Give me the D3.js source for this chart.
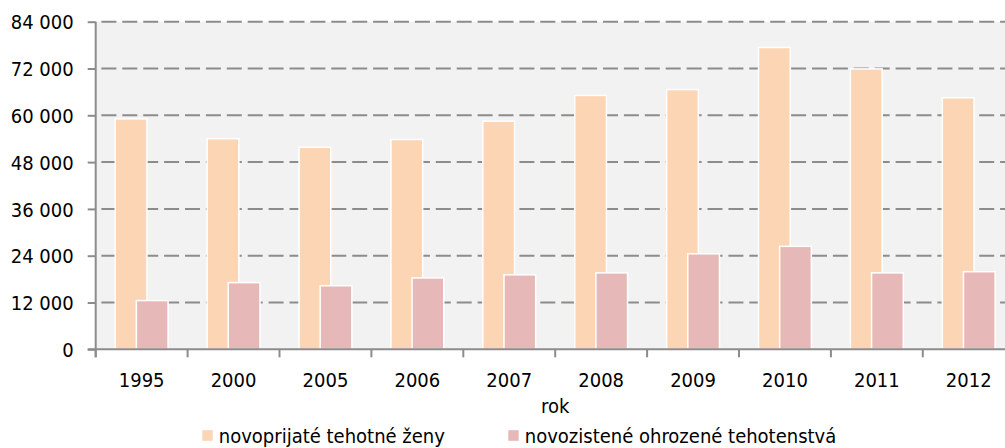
<!DOCTYPE html>
<meta charset="utf-8">
<style>
body{margin:0;background:#fff;}
svg{display:block}
text{font-family:Tahoma,"DejaVu Sans Condensed","DejaVu Sans",sans-serif;font-stretch:condensed;font-size:20px;fill:#000;}
</style>
<svg id="chart" width="1005" height="448"></svg>
<script src="https://cdn.jsdelivr.net/npm/d3@7"></script>
<script>
// years on the x axis
const years = ['1995','2000','2005','2006','2007','2008','2009','2010','2011','2012']
// series
const seriesNames = ['novoprijaté tehotné ženy', 'novozistené ohrozené tehotenstvá']
const newPregnant = [59100, 54000, 51800, 53800, 58500, 65100, 66600, 77400, 71900, 64500]
const newRisk = [12500, 17100, 16300, 18300, 19100, 19600, 24500, 26400, 19600, 19900]
const seriesColors = ['#fcd5b4', '#e6b9b8']
const yTicks = [0, 12000, 24000, 36000, 48000, 60000, 72000, 84000]

const svg = d3.select('#chart')
const plotL = 95.7, plotR = 1014.7, plotT = 21.7, plotB = 349.3

const x = d3.scaleBand().domain(years).range([plotL, plotR])
const y = d3.scaleLinear().domain([0, 84000]).range([plotB, plotT])
// series centres inside a band (bars overlap a bit)
const xs = d3.scalePoint().domain(seriesNames).range([-0.115, 0.115])
const barW = 0.345 * x.bandwidth()

const fmt = d3.formatLocale({decimal: ',', thousands: ' ', grouping: [3], currency: ['', '']}).format(',d')

// plot background
svg.append('rect')
  .attr('x', plotL).attr('y', plotT)
  .attr('width', plotR - plotL).attr('height', plotB - plotT)
  .attr('fill', '#f2f2f2')

// dashed gridlines
svg.append('g').selectAll('line')
  .data(yTicks.filter(d => d > 0))
  .join('line')
  .attr('x1', plotL).attr('x2', 1005)
  .attr('y1', d => y(d)).attr('y2', d => y(d))
  .attr('stroke', '#8c8c8c')
  .attr('stroke-width', 2)
  .attr('stroke-dasharray', '15,5.9')
  .attr('stroke-dashoffset', 15.2)

// bars
const series = [newPregnant, newRisk]
series.forEach((vals, s) => {
  svg.append('g').selectAll('rect')
    .data(vals)
    .join('rect')
    .attr('x', (d, i) => x(years[i]) + x.bandwidth() / 2 + xs(seriesNames[s]) * x.bandwidth() - barW / 2)
    .attr('y', d => y(d))
    .attr('width', barW)
    .attr('height', d => y(0) - y(d))
    .attr('fill', seriesColors[s])
    .attr('stroke', '#fff')
    .attr('stroke-width', 1.5)
})

// y axis
const yAxis = svg.append('g')
  .attr('transform', `translate(${plotL},0)`)
  .call(d3.axisLeft(y).tickValues(yTicks).tickFormat(fmt).tickSize(8).tickPadding(14))
yAxis.attr('font-size', null).attr('font-family', null)
yAxis.select('.domain').attr('stroke', '#8c8c8c').attr('stroke-width', 2)
  .attr('d', `M0,${plotT}V${plotB + 8}`)
yAxis.selectAll('.tick line').attr('stroke', '#8c8c8c').attr('stroke-width', 2)
yAxis.selectAll('.tick text').attr('dy', '0.36em')

// x axis
const xAxis = svg.append('g')
  .attr('transform', `translate(0,${plotB})`)
  .call(d3.axisBottom(x).tickSize(0).tickPadding(0))
xAxis.attr('font-size', null).attr('font-family', null)
xAxis.select('.domain').attr('stroke', '#8c8c8c').attr('stroke-width', 2)
  .attr('d', `M${plotL - 8},0H1005`)
xAxis.selectAll('.tick text').attr('y', 37.5).attr('dy', null)
xAxis.append('g').selectAll('line')
  .data(years)
  .join('line')
  .attr('x1', d => x(d)).attr('x2', d => x(d))
  .attr('y1', 0).attr('y2', 8)
  .attr('stroke', '#8c8c8c').attr('stroke-width', 2)

svg.append('text')
  .attr('x', (plotL + plotR) / 2).attr('y', 413)
  .attr('text-anchor', 'middle')
  .text('rok')

// legend
const legendX = [202.3, 508.3]
const legend = svg.append('g').selectAll('g')
  .data(seriesNames)
  .join('g')
  .attr('transform', (d, i) => `translate(${legendX[i]},0)`)
legend.append('rect')
  .attr('x', 0).attr('y', 430.2)
  .attr('width', 10.4).attr('height', 10.6)
  .attr('fill', (d, i) => seriesColors[i])
legend.append('text')
  .attr('x', 16.5).attr('y', 443.2)
  .text(d => d)
</script>
